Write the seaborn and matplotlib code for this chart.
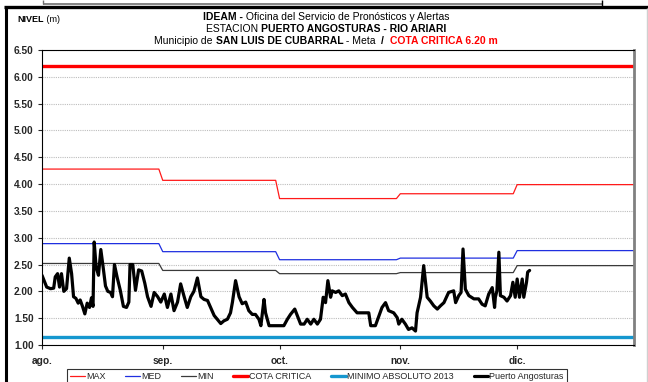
import numpy as np
import pandas as pd
import matplotlib
matplotlib.use("Agg")
import matplotlib.pyplot as plt
from matplotlib.lines import Line2D
import seaborn as sns

# ---- reference levels per month (Aug..Dec) ----
meses = ["2014-08", "2014-09", "2014-10", "2014-11", "2014-12"]
nivel_max = [4.28, 4.07, 3.73, 3.82, 3.99]
nivel_med = [2.89, 2.74, 2.59, 2.62, 2.76]
nivel_min = [2.52, 2.39, 2.33, 2.35, 2.48]
cota_critica = 6.20
minimo_absoluto = 1.15

# ---- observed stage, Puerto Angosturas (days since 1 Aug) ----
dias = [0, 1.2, 2.2, 3.0, 3.4, 4.0, 4.5, 5.0, 5.6, 6.3, 7.0, 7.6, 8.1, 8.7, 9.3,
        9.8, 10.4, 11.0, 11.6, 12.2, 12.7, 13.1, 13.4, 13.9, 14.5, 15.1, 15.7,
        16.3, 16.9, 17.6, 18.1, 18.6, 19.3, 20.1, 20.9, 21.7, 22.3, 22.6, 23.3,
        24.0, 24.8, 25.6, 26.4, 27.1, 28.0, 28.8, 29.7, 30.5, 31.4, 32.2, 33.1,
        33.9, 34.8, 35.6, 36.5, 37.3, 38.2, 39.0, 39.9, 40.8, 41.6, 42.5, 43.3,
        44.2, 45.0, 45.9, 46.7, 47.6, 48.4, 48.9, 49.7, 50.6, 51.4, 52.3, 53.1,
        54.0, 54.8, 55.7, 56.2, 57.0, 57.4, 58.3, 62.1, 63.0, 63.8, 64.9, 65.6,
        66.4, 67.3, 68.1, 69.0, 69.8, 70.7, 71.5, 72.2, 72.8, 73.4, 74.1, 74.5,
        75.4, 76.2, 77.1, 77.9, 78.8, 79.7, 80.9, 82.6, 83.9, 84.4, 85.6, 86.5,
        87.3, 88.2, 89.0, 90.3, 91.2, 91.6, 92.4, 93.3, 94.1, 95.0, 95.9, 96.3,
        97.2, 98.0, 98.9, 99.7, 100.6, 101.5, 102.3, 103.2, 104.4, 105.7, 106.2,
        107.0, 107.6, 108.1, 108.7, 109.6, 110.9, 112.1, 113.0, 113.8, 114.7,
        115.6, 116.2, 116.4, 116.8, 117.3, 117.7, 118.6, 119.4, 120.3, 120.9,
        121.5, 122.0, 122.6, 123.3, 123.7, 124.4, 124.7, 125.2]
nivel = [2.30, 2.08, 2.05, 2.06, 2.27, 2.33, 2.08, 2.33, 2.00, 2.05, 2.62, 2.33,
         1.90, 1.87, 1.78, 1.84, 1.72, 1.58, 1.78, 1.70, 1.88, 1.72, 2.92, 2.45,
         2.30, 2.78, 2.45, 2.10, 2.00, 1.98, 1.90, 2.50, 2.26, 2.02, 1.72, 1.70,
         1.80, 2.50, 2.50, 2.02, 2.40, 2.38, 2.15, 1.90, 1.72, 1.98, 1.90, 1.80,
         1.95, 1.70, 1.95, 1.64, 1.80, 2.14, 1.90, 1.70, 1.90, 2.00, 2.25, 1.90,
         1.85, 1.83, 1.70, 1.55, 1.48, 1.40, 1.45, 1.48, 1.60, 1.80, 2.20, 1.90,
         1.77, 1.80, 1.64, 1.57, 1.57, 1.48, 1.36, 1.85, 1.60, 1.36, 1.36, 1.48,
         1.57, 1.67, 1.54, 1.39, 1.39, 1.48, 1.39, 1.48, 1.39, 1.48, 1.89, 1.79,
         2.20, 1.89, 2.01, 1.98, 2.01, 1.92, 1.95, 1.79, 1.70, 1.60, 1.60, 1.60,
         1.36, 1.36, 1.54, 1.70, 1.79, 1.64, 1.60, 1.51, 1.39, 1.48, 1.39, 1.29,
         1.32, 1.26, 1.60, 1.89, 2.48, 1.89, 1.82, 1.73, 1.67, 1.73, 1.79, 1.98,
         2.01, 1.79, 1.92, 1.98, 2.79, 2.04, 1.92, 1.86, 1.86, 1.76, 1.73, 1.95,
         2.07, 1.70, 1.89, 2.01, 2.73, 1.92, 1.89, 1.82, 1.92, 2.17, 1.89, 2.23,
         1.89, 2.23, 1.89, 2.17, 2.36, 2.39]

mes_labels = ["ago.", "sep.", "oct.", "nov.", "dic."]
y_ticks = np.arange(1.0, 6.51, 0.5)

# ---- style ----
sns.set_style("white")
FAM = ["Liberation Sans Narrow", "Liberation Sans", "DejaVu Sans"]
TICKFAM = ["Liberation Sans", "DejaVu Sans"]
plt.rcParams["font.family"] = FAM

W, H = 648, 382
fig = plt.figure(figsize=(W / 100, H / 100), dpi=100)
ax = fig.add_axes([42 / W, 1 - 345 / H, (634 - 42) / W, (345 - 50) / H])

inicio = pd.Timestamp("2014-08-01")
fin = pd.Timestamp("2014-12-31")
diario = pd.date_range(inicio, fin, freq="D")
periodo = diario.to_period("M").astype(str)

def mensual(valores):
    return pd.Series(valores, index=meses).reindex(periodo).to_numpy()

ref = pd.DataFrame({
    "fecha": diario,
    "MAX": mensual(nivel_max),
    "MED": mensual(nivel_med),
    "MIN": mensual(nivel_min),
    "COTA CRITICA": cota_critica,
    "MINIMO ABSOLUTO 2013": minimo_absoluto,
})
obs = pd.DataFrame({"fecha": inicio + pd.to_timedelta(dias, unit="D"), "nivel": nivel})

estilos = [
    ("MAX", "#FF1A1A", 0.9),
    ("MED", "#1F2FE0", 0.9),
    ("MIN", "#3A3A3A", 0.9),
    ("COTA CRITICA", "#FF0000", 2.4),
    ("MINIMO ABSOLUTO 2013", "#1597CF", 2.4),
]
for col, color, lw in estilos:
    sns.lineplot(data=ref, x="fecha", y=col, color=color, lw=lw, label=col,
                 estimator=None, ax=ax)
sns.lineplot(data=obs, x="fecha", y="nivel", color="black", lw=2.3,
             label="Puerto Angosturas", estimator=None, sort=False, ax=ax)

# ---- axes ----
ax.set_xlim(inicio, fin)
ax.set_ylim(1.0, 6.5)
ax.set_yticks(y_ticks)
ax.set_yticklabels([f"{v:.2f}" for v in y_ticks])
ax.set_xticks(pd.date_range(inicio, periods=5, freq="MS"))
ax.set_xticklabels(mes_labels)
ax.set_xlabel("")
ax.set_ylabel("")
for lbl in ax.get_xticklabels() + ax.get_yticklabels():
    lbl.set_fontfamily(TICKFAM)
    lbl.set_fontweight("bold")
    lbl.set_fontsize(7.3)
ax.tick_params(axis="y", length=3, width=0.8, pad=3, direction="out", left=True)
ax.tick_params(axis="x", length=3, width=0.8, pad=5, direction="out", bottom=True)
ax.grid(axis="y", color="#BDBDBD", linestyle=(0, (1, 1)), lw=0.8)
ax.set_axisbelow(True)
for s in ["top", "left", "bottom"]:
    ax.spines[s].set_color("black")
    ax.spines[s].set_linewidth(0.8)
ax.spines["right"].set_color("#808080")
ax.spines["right"].set_linewidth(2.0)

handles, labels = ax.get_legend_handles_labels()
ax.get_legend().remove()
leg = fig.legend(handles, labels, loc="upper center", bbox_to_anchor=(317 / W, 1 - 364 / H),
                 ncol=6, frameon=True, fancybox=False, edgecolor="black",
                 handlelength=1.6, handletextpad=0.15, columnspacing=2.2,
                 borderpad=0.35, prop={"family": FAM, "size": 6.5})
leg.get_frame().set_linewidth(0.8)

# ---- mixed-style header lines ----
renderer = fig.canvas.get_renderer()

def ancho(txt, size, weight):
    t = fig.text(0, 0, txt + "|", fontsize=size, fontweight=weight, family=FAM)
    b = fig.text(0, 0, "|", fontsize=size, fontweight=weight, family=FAM)
    w = t.get_window_extent(renderer).width - b.get_window_extent(renderer).width
    t.remove(); b.remove()
    return w

def linea(cx, cy, partes, size, ha="center"):
    anchos = [ancho(t, size, w) for t, w, c in partes]
    x = cx - sum(anchos) / 2 if ha == "center" else cx
    for (t, w, c), a in zip(partes, anchos):
        fig.text(x / W, 1 - cy / H, t, fontsize=size, fontweight=w, color=c,
                 family=FAM, ha="left", va="center")
        x += a

TS = 7.5
linea(326, 17, [("IDEAM -", "bold", "black"),
                (" Oficina del Servicio de Pronósticos y Alertas", "normal", "black")], TS)
linea(326, 29, [("ESTACION ", "normal", "black"),
                ("PUERTO ANGOSTURAS - RIO ARIARI", "bold", "black")], TS)
linea(326, 41, [("Municipio de ", "normal", "black"),
                ("SAN LUIS DE CUBARRAL", "bold", "black"),
                (" - Meta  ", "normal", "black"),
                ("/  ", "bold", "black"),
                ("COTA CRITICA 6.20 m", "bold", "#FF0000")], TS)
linea(17, 19, [("NIVEL", "bold", "black"), (" (m)", "normal", "black")], 6.5, ha="left")

# ---- page frame ----
def trazo(xs, ys, color, lw):
    fig.add_artist(Line2D([x / W for x in xs], [1 - y / H for y in ys],
                          transform=fig.transFigure, color=color, lw=lw,
                          solid_capstyle="butt"))

trazo([4, W], [7, 7], "black", 2.4)
trazo([5.5, 5.5], [6, H], "black", 2.2)
trazo([43, 602], [3.5, 3.5], "#707070", 1.2)
trazo([43, 43], [0, 3.5], "#707070", 1.0)
trazo([602, 602], [0, 6], "black", 1.0)
trazo([646.5, 646.5], [8, H], "#D0D0D0", 1.0)

fig.savefig("out.png", dpi=100)
